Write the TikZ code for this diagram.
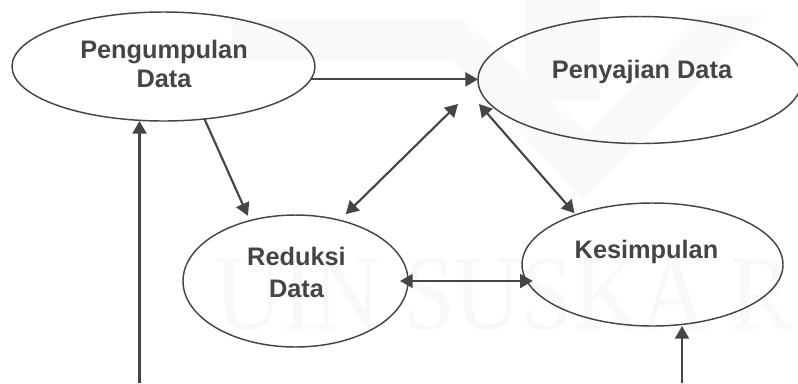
\documentclass[tikz,border=0pt]{standalone}
\usepackage{fontspec}
\setmainfont{Liberation Sans}
\newfontfamily\wmfont{Liberation Serif}
\usetikzlibrary{shapes.geometric,arrows.meta}
\definecolor{ink}{HTML}{454545}
\definecolor{wmbeige}{HTML}{F9F9F7}
\definecolor{wmblue}{HTML}{F7F7FC}
\tikzset{
  oval/.style={ellipse,draw=ink,line width=1.1pt,inner sep=0pt,outer sep=0pt},
  lab/.style={font=\fontsize{19}{21.8}\bfseries\selectfont,text=ink,align=center,inner sep=0pt},
  conn/.style={draw=ink,line width=1.6pt,-{Triangle[length=9.5pt,width=10.5pt]}},
  dconn/.style={draw=ink,line width=1.6pt,{Triangle[length=9.5pt,width=10.5pt]}-{Triangle[length=9.5pt,width=10.5pt]}}
}
\begin{document}
\begin{tikzpicture}[x=0.75pt,y=-0.75pt]
\useasboundingbox (0,0) rectangle (798,383);
\clip (0,0) rectangle (798,383);
% watermark
\fill[wmbeige] (232,20) -- (463,20) -- (587,133) -- (700,15) -- (765,15) -- (583,200) -- (453,60) -- (232,60) -- cycle;
\fill[wmbeige] (525,0) rectangle (600,100);
\node[anchor=base west,inner sep=0pt,text=wmblue,font=\wmfont\fontsize{80}{80}\selectfont,xscale=0.87] (wm) at (215,329) {UIN SUSKA R};
% nodes
\node[oval,minimum width=227.25pt,minimum height=81.75pt] (peng) at (163.5,66.5) {};
\node[oval,minimum width=243pt,minimum height=95.25pt] (peny) at (640,80) {};
\node[oval,minimum width=168.75pt,minimum height=99pt] (redu) at (295.5,281) {};
\node[oval,minimum width=195.75pt,minimum height=92.25pt] (kesi) at (652.5,264.5) {};
% labels
\node[lab] (tpeng) at (164,64) {Pengumpulan\\Data};
\node[lab] (tpeny) at (642,71.5) {Penyajian Data};
\node[lab] (tredu) at (296.5,272.5) {Reduksi\\[2pt]Data};
\node[lab] (tkesi) at (646.5,252) {Kesimpulan};
% free ends
\coordinate (fa) at (479,104);
\coordinate (fb) at (458,104);
\coordinate (fc) at (139.5,383);
\coordinate (fd) at (682,383);
% connectors
\draw[conn] (peng.-5.26) -- (peng.-5.26 -| peny.west);
\draw[conn,shorten >=4pt] (peng.-52.4) -- (redu.127);
\draw[dconn,shorten <=6.5pt] (redu.54.7) -- (fb);
\draw[dconn,shorten >=1.5pt] (fa) -- (kesi.147.4);
\draw[dconn,shorten <=-6pt,shorten >=-4pt] (redu.east) -- (redu.east -| kesi.-172.5);
\draw[conn] (fc) -- (fc |- peng.south);
\draw[conn] (fd) -- (fd |- kesi.south);
\end{tikzpicture}
\end{document}
